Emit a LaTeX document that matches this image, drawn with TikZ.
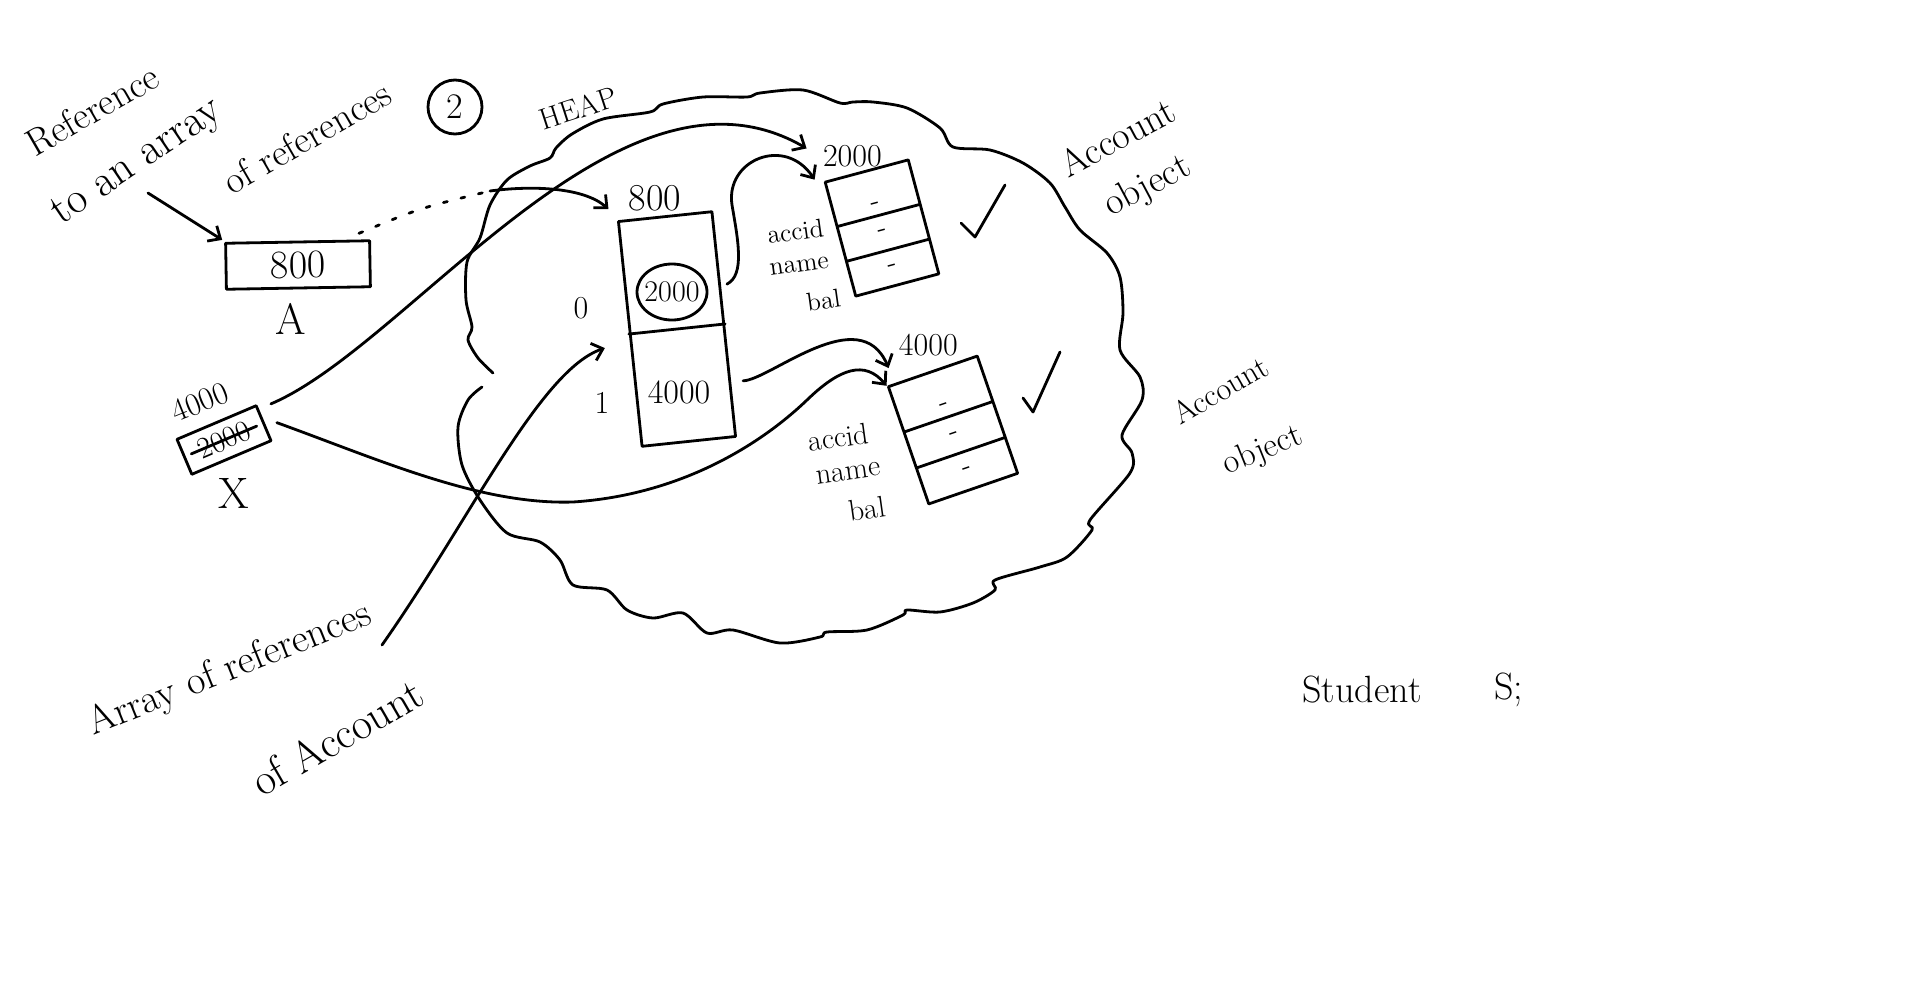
\documentclass[tikz,border=0pt]{standalone}
\usepackage{tikz}
\usetikzlibrary{positioning, arrows.meta, shapes.geometric, shapes.multipart, calc}
\newcommand{\txtsize}[1]{\fontsize{#1}{#1}\selectfont}
\newcommand{\blank}{\raisebox{-4pt}{-}}
\tikzset{
  ink/.style={line width=1.4pt, line cap=round, line join=round},
  ptr/.style={ink, -{Straight Barb[length=5pt, width=9pt]}},
  slot/.style={draw, ink, inner sep=2pt, font=\txtsize{16pt}},
  heapbox/.style={draw, ink, inner sep=0pt, minimum width=47pt, minimum height=113pt},
  objbox/.style={draw, ink, rectangle split, rectangle split parts=3, inner xsep=2pt, text height=9pt, text depth=0pt, font=\txtsize{14pt}},
  field/.style={font=\txtsize{13pt}, inner sep=1pt, rotate=8},
  addr/.style={font=\txtsize{16pt}, inner sep=2pt},
  note/.style={font=\txtsize{19pt}, inner sep=0pt},
  dotted link/.style={ink, dash pattern=on 2pt off 7pt}
}

\begin{document}
\begin{tikzpicture}[x=0.5pt, y=-0.5pt]
  \useasboundingbox (0,0) rectangle (1920,1001);
  \fill[white] (0,0) rectangle (1920,1001);

  % notes, top left
  \node[note, rotate=30] (refNote) at (92,110) {Reference};
  \node[note, font=\txtsize{22pt}, rotate=34] (toNote) at (138,163) {to an array};
  \node[note, rotate=30] (ofNote) at (307,137) {of references};
  \node[draw, ink, circle, minimum size=27pt, inner sep=0pt, font=\txtsize{18pt}] (step2) at (455,107) {2};

  % reference A
  \node[slot, font=\txtsize{20pt}, minimum width=72pt, minimum height=23pt, rotate=1] (refA) at (298,265) {800};
  \node[note, font=\txtsize{22pt}, below=7pt of refA, xshift=-4pt] (nameA) {A};

  % reference X, old value struck out
  \node[slot, font=\txtsize{15pt}, minimum width=43pt, minimum height=19pt, rotate=23] (refX) at (224,440) {2000};
  \draw[ink] ($(refX.west)!0.1!(refX.east)$) -- ($(refX.west)!0.9!(refX.east)$);
  \node[addr, rotate=22] (newX) at (200,402) {4000};
  \node[note, font=\txtsize{22pt}] (nameX) at (234,493) {X};

  % heap cloud
  \draw[ink] plot[smooth, tension=0.5] coordinates {
    (493,373) (478,358) (468,340) (472,327) (466,300) (467,262) (480,238) (490,205)
    (507,180) (530,166) (550,158) (556,148) (572,134) (603,119) (650,112) (663,104)
    (703,97) (747,97) (760,93) (803,90) (840,103) (853,102) (873,102) (907,108)
    (940,128) (953,147) (990,150) (1023,163) (1050,183) (1065,207) (1080,230) (1107,253)
    (1120,277) (1123,313) (1120,350) (1140,377) (1142,400) (1122,435) (1132,453) (1130,473)
    (1090,520) (1092,530) (1067,557) (1040,567) (995,580) (995,590) (973,603) (940,612)
    (907,610) (903,615) (867,630) (827,632) (820,637) (780,643) (733,630) (707,633)
    (683,613) (653,618) (627,610) (607,590) (573,585) (560,560) (540,542) (507,533)
    (480,500) (462,465) (458,427) (468,400) (482,387)};
  \node[note, font=\txtsize{15pt}, rotate=18] (heapName) at (578,108) {HEAP};

  % array of references at 800
  \node[heapbox, rotate=6] (heapArr) at (677,329) {};
  \draw[ink] (heapArr.west) -- (heapArr.east);
  \node[addr, font=\txtsize{19pt}, above=0pt of heapArr.north, xshift=-5pt] (arrAddr) {800};
  \node[draw, ink, ellipse, minimum width=35pt, minimum height=28pt, inner sep=0pt] (ring) at (672,292) {};
  \node[addr, font=\txtsize{15pt}] (slotOld) at (ring) {2000};
  \node[addr, font=\txtsize{17pt}] (slotNew) at (679,392) {4000};
  \node[addr] (idx0) at (581,308) {0};
  \node[addr] (idx1) at (602,403) {1};
  \coordinate (slot0) at ($(heapArr.east)!0.35!(heapArr.north east)$);
  \coordinate (slot1) at ($(heapArr.east)!0.5!(heapArr.south east)$);

  % Account at 2000
  \node[objbox, minimum width=43pt, inner ysep=6.3pt, rotate=15] (acc1) at (882,228)
    {\blank\nodepart{two}\blank\nodepart{three}\blank};
  \node[field, left=5pt of acc1.text split west] (acc1Id) {accid};
  \node[field, left=7pt of acc1.two split west] (acc1Name) {name};
  \node[field, left=6pt of acc1.south west] (acc1Bal) {bal};
  \node[addr, above=-1pt of acc1.north, xshift=-7pt] (acc1Addr) {2000};
  \draw[ink] (961,223) -- (975,237) -- (1005,185);
  \node[note, rotate=28] (obj1a) at (1117,137) {Account};
  \node[note, rotate=28] (obj1b) at (1148,187) {object};

  % Account at 4000
  \node[objbox, minimum width=47pt, inner ysep=6.8pt, rotate=19] (acc2) at (953,430)
    {\blank\nodepart{two}\blank\nodepart{three}\blank};
  \node[field, font=\txtsize{15pt}, left=16pt of acc2.text split west] (acc2Id) {accid};
  \node[field, font=\txtsize{15pt}, left=16pt of acc2.two split west] (acc2Name) {name};
  \node[field, font=\txtsize{15pt}, left=20pt of acc2.south west] (acc2Bal) {bal};
  \node[addr, above=5pt of acc2.north, xshift=-2pt] (acc2Addr) {4000};
  \draw[ink] (1023,398) -- (1033,412) -- (1060,352);
  \node[note, font=\txtsize{16pt}, rotate=30] (obj2a) at (1220,390) {Account};
  \node[note, font=\txtsize{17pt}, rotate=22] (obj2b) at (1263,451) {object};

  % notes, bottom
  \node[note, font=\txtsize{20pt}, rotate=22] (arrNote) at (230,670) {Array of references};
  \node[note, font=\txtsize{22pt}, rotate=30] (accNote) at (337,737) {of Account};
  \node[note] (stuNote) at (1362,690) {Student};
  \node[note, right=36pt of stuNote] (stuVar) {S;};

  % connectors
  \coordinate (toTail) at (148,193);
  \draw[ptr] (toTail) -- ([shift={(-1pt,1pt)}]refA.north west);
  \coordinate (heapEdge) at (490,191);
  \draw[dotted link] ([shift={(-6pt,3pt)}]refA.north east) .. controls (420,208) .. (heapEdge);
  \draw[ptr] (heapEdge) .. controls (535,185) and (585,188) .. ([shift={(-8pt,3pt)}]arrAddr.south west);

  % X: old and new target
  \draw[ptr] ([xshift=7pt]refX.north east) .. controls (410,345) and (620,40) .. ([shift={(-6pt,4pt)}]acc1Addr.west);
  \draw[ptr] ([xshift=6pt]refX.east) .. controls (380,460) and (480,505) .. (573,502)
    .. controls (680,495) and (760,445) .. (807,400)
    .. controls (840,368) and (865,360) .. (acc2.north west);

  % slots to objects
  \draw[ptr] ([xshift=3pt]slot0) .. controls (745,275) and (738,240) .. (732,205)
    .. controls (725,160) and (785,135) .. ([shift={(-2pt,-4pt)}]acc1Addr.south west);
  \draw[ptr] ([xshift=6pt]slot1) .. controls (770,380) and (860,300) .. ([shift={(-3pt,-4pt)}]acc2Addr.south west);

  \coordinate (refsTail) at (382,645);
  \draw[ptr] (refsTail) .. controls (470,520) and (540,370) .. ([shift={(-12pt,-7pt)}]heapArr.west);
\end{tikzpicture}
\end{document}
